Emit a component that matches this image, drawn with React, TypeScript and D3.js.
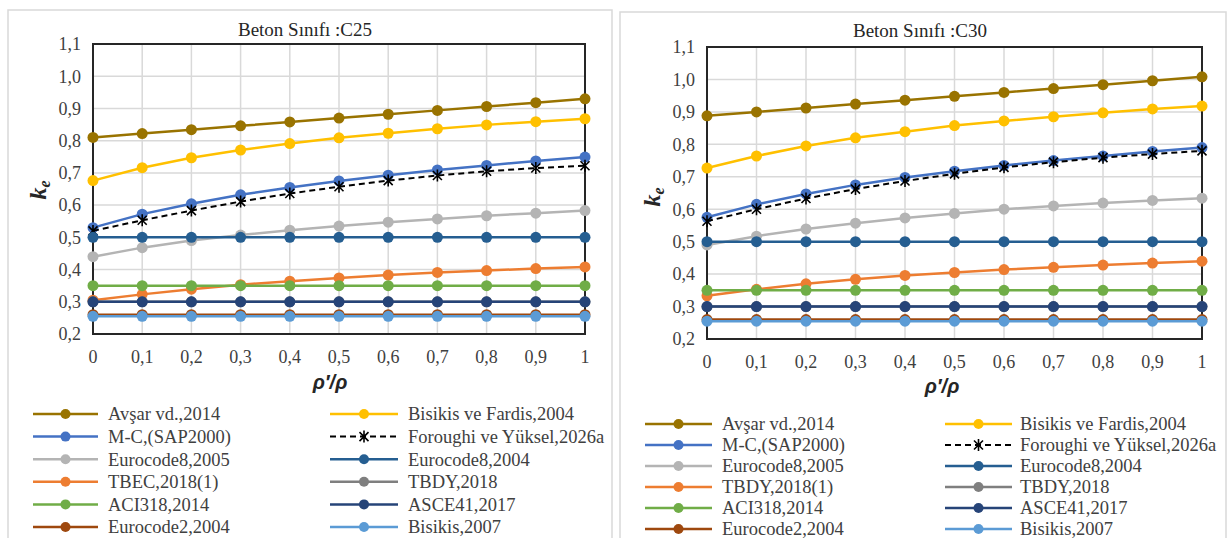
import React from 'react';
import * as d3 from 'd3';

const X = [0, 0.1, 0.2, 0.3, 0.4, 0.5, 0.6, 0.7, 0.8, 0.9, 1];
const xTickLabels = ['0', '0,1', '0,2', '0,3', '0,4', '0,5', '0,6', '0,7', '0,8', '0,9', '1'];
const yTicks = [0.2, 0.3, 0.4, 0.5, 0.6, 0.7, 0.8, 0.9, 1.0, 1.1];
const yTickLabels = ['0,2', '0,3', '0,4', '0,5', '0,6', '0,7', '0,8', '0,9', '1,0', '1,1'];

const namesC25 = [
  'Avşar vd.,2014', 'Bisikis ve Fardis,2004', 'M-C,(SAP2000)', 'Foroughi ve Yüksel,2026a',
  'Eurocode8,2005', 'Eurocode8,2004', 'TBEC,2018(1)', 'TBDY,2018',
  'ACI318,2014', 'ASCE41,2017', 'Eurocode2,2004', 'Bisikis,2007',
];
const namesC30 = [
  'Avşar vd.,2014', 'Bisikis ve Fardis,2004', 'M-C,(SAP2000)', 'Foroughi ve Yüksel,2026a',
  'Eurocode8,2005', 'Eurocode8,2004', 'TBDY,2018(1)', 'TBDY,2018',
  'ACI318,2014', 'ASCE41,2017', 'Eurocode2,2004', 'Bisikis,2007',
];
const colors = [
  '#997300', '#ffc000', '#4472c4', '#000000',
  '#b4b4b4', '#255e91', '#ed7d31', '#7f7f7f',
  '#70ad47', '#264478', '#9e480e', '#5b9bd5',
];

// C25
const avsarC25 = [0.81, 0.822, 0.834, 0.846, 0.858, 0.87, 0.882, 0.894, 0.906, 0.918, 0.93];
const bisFarC25 = [0.676, 0.716, 0.747, 0.771, 0.791, 0.809, 0.823, 0.837, 0.849, 0.859, 0.868];
const mcC25 = [0.53, 0.572, 0.604, 0.632, 0.655, 0.675, 0.693, 0.709, 0.723, 0.737, 0.749];
const forC25 = [0.52, 0.553, 0.583, 0.611, 0.636, 0.657, 0.676, 0.692, 0.705, 0.715, 0.722];
const ec8_05C25 = [0.44, 0.468, 0.49, 0.507, 0.522, 0.535, 0.547, 0.557, 0.567, 0.575, 0.583];
const ec8_04C25 = [0.5, 0.5, 0.5, 0.5, 0.5, 0.5, 0.5, 0.5, 0.5, 0.5, 0.5];
const tbec1C25 = [0.305, 0.323, 0.339, 0.353, 0.364, 0.374, 0.383, 0.391, 0.397, 0.403, 0.408];
const tbdyC25 = [0.3, 0.3, 0.3, 0.3, 0.3, 0.3, 0.3, 0.3, 0.3, 0.3, 0.3];
const aciC25 = [0.35, 0.35, 0.35, 0.35, 0.35, 0.35, 0.35, 0.35, 0.35, 0.35, 0.35];
const asceC25 = [0.3, 0.3, 0.3, 0.3, 0.3, 0.3, 0.3, 0.3, 0.3, 0.3, 0.3];
const ec2C25 = [0.26, 0.26, 0.26, 0.26, 0.26, 0.26, 0.26, 0.26, 0.26, 0.26, 0.26];
const bis07C25 = [0.255, 0.255, 0.255, 0.255, 0.255, 0.255, 0.255, 0.255, 0.255, 0.255, 0.255];

// C30
const avsarC30 = [0.888, 0.9, 0.912, 0.924, 0.936, 0.948, 0.96, 0.972, 0.984, 0.996, 1.008];
const bisFarC30 = [0.727, 0.764, 0.795, 0.82, 0.839, 0.858, 0.872, 0.885, 0.897, 0.909, 0.918];
const mcC30 = [0.575, 0.615, 0.647, 0.675, 0.698, 0.717, 0.735, 0.75, 0.764, 0.778, 0.79];
const forC30 = [0.563, 0.6, 0.633, 0.662, 0.687, 0.709, 0.729, 0.745, 0.759, 0.77, 0.78];
const ec8_05C30 = [0.49, 0.517, 0.539, 0.557, 0.573, 0.587, 0.6, 0.61, 0.619, 0.627, 0.634];
const ec8_04C30 = [0.5, 0.5, 0.5, 0.5, 0.5, 0.5, 0.5, 0.5, 0.5, 0.5, 0.5];
const tbdy1C30 = [0.333, 0.353, 0.37, 0.384, 0.396, 0.405, 0.414, 0.421, 0.428, 0.434, 0.44];
const tbdyC30 = [0.3, 0.3, 0.3, 0.3, 0.3, 0.3, 0.3, 0.3, 0.3, 0.3, 0.3];
const aciC30 = [0.35, 0.35, 0.35, 0.35, 0.35, 0.35, 0.35, 0.35, 0.35, 0.35, 0.35];
const asceC30 = [0.3, 0.3, 0.3, 0.3, 0.3, 0.3, 0.3, 0.3, 0.3, 0.3, 0.3];
const ec2C30 = [0.26, 0.26, 0.26, 0.26, 0.26, 0.26, 0.26, 0.26, 0.26, 0.26, 0.26];
const bis07C30 = [0.255, 0.255, 0.255, 0.255, 0.255, 0.255, 0.255, 0.255, 0.255, 0.255, 0.255];

const seriesC25 = [avsarC25, bisFarC25, mcC25, forC25, ec8_05C25, ec8_04C25, tbec1C25, tbdyC25, aciC25, asceC25, ec2C25, bis07C25];
const seriesC30 = [avsarC30, bisFarC30, mcC30, forC30, ec8_05C30, ec8_04C30, tbdy1C30, tbdyC30, aciC30, asceC30, ec2C30, bis07C30];

const SERIF = '"Liberation Serif", "Times New Roman", serif';

const STAR = 'M-4.5,-4.5L4.5,4.5M-4.5,4.5L4.5,-4.5M0,-6L0,6';

type Layout = {
  panel: [number, number, number, number];
  plot: [number, number, number, number]; // x0, x1, yTop, yBot
  titleX: number; titleY: number;
  xLabelX: number; xLabelY: number;
  yLabelX: number; yLabelY: number;
  legY: number; legDy: number;
  col1: [number, number, number]; // line start, line end, text x
  col2: [number, number, number];
};

function Chart({ title, names, series, L }: { title: string; names: string[]; series: number[][]; L: Layout }) {
  const [px0, px1, pyT, pyB] = L.plot;
  const x = d3.scaleLinear().domain([0, 1]).range([px0, px1]);
  const y = d3.scaleLinear().domain([0.2, 1.1]).range([pyB, pyT]);
  const line = d3.line<number>().x((_, i) => x(X[i])).y((d) => y(d));
  return (
    <g>
      <rect x={L.panel[0]} y={L.panel[1]} width={L.panel[2]} height={L.panel[3]} fill="#fff" stroke="#d9d9d9" strokeWidth={1.5} />
      <text x={L.titleX} y={L.titleY} textAnchor="middle" fontFamily={SERIF} fontSize={19} fill="#262626">{title}</text>
      {X.map((v, i) => (
        <line key={'gx' + i} x1={x(v)} x2={x(v)} y1={pyT} y2={pyB} stroke="#d9d9d9" strokeWidth={1.5} />
      ))}
      {yTicks.map((v, i) => (
        <line key={'gy' + i} x1={px0} x2={px1} y1={y(v)} y2={y(v)} stroke="#d9d9d9" strokeWidth={1.5} />
      ))}
      <rect x={px0} y={pyT} width={px1 - px0} height={pyB - pyT} fill="none" stroke="#262626" strokeWidth={2} />
      {yTicks.map((v, i) => (
        <text key={'ty' + i} x={px0 - 12} y={y(v)} dy="0.35em" textAnchor="end" fontFamily={SERIF} fontSize={18} fill="#404040">{yTickLabels[i]}</text>
      ))}
      {X.map((v, i) => (
        <text key={'tx' + i} x={x(v)} y={pyB + 23} dy="0.35em" textAnchor="middle" fontFamily={SERIF} fontSize={18} fill="#404040">{xTickLabels[i]}</text>
      ))}
      <text x={L.xLabelX} y={L.xLabelY} dy="0.35em" textAnchor="middle" fontFamily='"Liberation Sans", Arial, sans-serif' fontWeight="bold" fontStyle="italic" fontSize={20} fill="#262626">ρ′/ρ</text>
      <text transform={`translate(${L.yLabelX},${L.yLabelY}) rotate(-90)`} textAnchor="middle" fontFamily={SERIF} fontWeight="bold" fontStyle="italic" fontSize={24} fill="#262626">
        k<tspan fontSize={16} dy={4}>e</tspan>
      </text>
      {series.map((s, k) => {
        const c = colors[k];
        const isStar = k === 3;
        return (
          <g key={'s' + k}>
            <path d={line(s) || ''} fill="none" stroke={c} strokeWidth={isStar ? 2 : 2.5} strokeDasharray={isStar ? '6,4' : undefined} />
            {s.map((v, i) =>
              isStar ? (
                <path key={i} d={STAR} transform={`translate(${x(X[i])},${y(v)})`} stroke="#000" strokeWidth={1.6} fill="none" />
              ) : (
                <circle key={i} cx={x(X[i])} cy={y(v)} r={5.5} fill={c} />
              )
            )}
          </g>
        );
      })}
      {names.map((n, k) => {
        const col = k % 2 === 0 ? L.col1 : L.col2;
        const row = Math.floor(k / 2);
        const yy = L.legY + row * L.legDy;
        const c = colors[k];
        const isStar = k === 3;
        const mx = (col[0] + col[1]) / 2;
        return (
          <g key={'l' + k}>
            <line x1={col[0]} x2={col[1]} y1={yy} y2={yy} stroke={c} strokeWidth={isStar ? 2 : 2.5} strokeDasharray={isStar ? '6,4' : undefined} />
            {isStar ? (
              <path d={STAR} transform={`translate(${mx},${yy})`} stroke="#000" strokeWidth={1.6} fill="none" />
            ) : (
              <circle cx={mx} cy={yy} r={5} fill={c} />
            )}
            <text x={col[2]} y={yy} dy="0.35em" fontFamily={SERIF} fontSize={18.5} fill="#404040">{n}</text>
          </g>
        );
      })}
    </g>
  );
}

const leftLayout: Layout = {
  panel: [8, 10, 604, 540],
  plot: [93, 585, 44, 334],
  titleX: 305, titleY: 36,
  xLabelX: 330, xLabelY: 382,
  yLabelX: 46, yLabelY: 190,
  legY: 414, legDy: 22.6,
  col1: [33, 98, 108],
  col2: [330, 398, 408],
};

const rightLayout: Layout = {
  panel: [620, 12, 606, 540],
  plot: [707, 1202, 47, 339],
  titleX: 920, titleY: 37,
  xLabelX: 942, xLabelY: 386,
  yLabelX: 660, yLabelY: 197,
  legY: 424, legDy: 21,
  col1: [645, 712, 722],
  col2: [945, 1012, 1020],
};

export default function App() {
  return (
    <div style={{ position: 'fixed', left: 0, top: 0 }}>
      <svg width={1230} height={538} style={{ display: 'block' }}>
        <rect width={1230} height={538} fill="#fff" />
        <Chart title="Beton Sınıfı :C25" names={namesC25} series={seriesC25} L={leftLayout} />
        <Chart title="Beton Sınıfı :C30" names={namesC30} series={seriesC30} L={rightLayout} />
      </svg>
    </div>
  );
}
